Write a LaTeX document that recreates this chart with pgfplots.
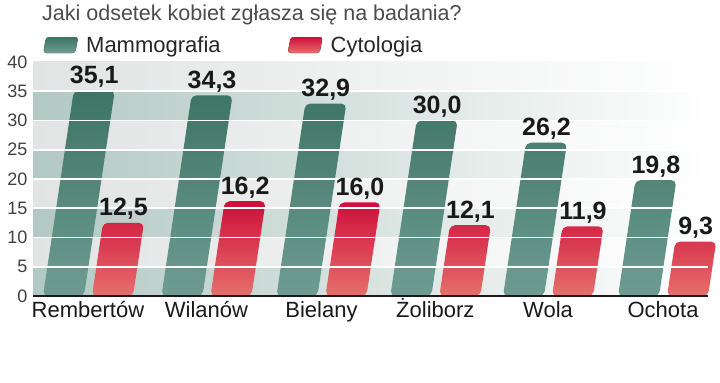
\documentclass[border=0pt]{standalone}
\usepackage{pgfplots}
\pgfplotsset{compat=1.18}
\usepackage{pgfplotstable}
\usepackage{fontspec}
\setmainfont{Liberation Sans}
\definecolor{gT}{HTML}{3D7464}
\definecolor{gB}{HTML}{6E9C92}
\definecolor{rT}{HTML}{CE0E3A}
\definecolor{rB}{HTML}{E6706C}
\definecolor{bandD}{HTML}{B2C8C2}
\definecolor{bandL}{HTML}{E1E4E3}
\pgfplotstableread{
x m c
0 35.1 12.5
1.03 34.3 16.2
2.03 32.9 16.0
3.02 30.0 12.1
4 26.2 11.9
5 19.8 9.3
}\data
\begin{document}
\begin{tikzpicture}[x=1bp,y=1bp]
\path[use as bounding box] (0,0) rectangle (720,382);
\node[anchor=north west, inner sep=0pt, text=black!70, font=\fontsize{21.5bp}{24bp}\selectfont] at (42,377) {Jaki odsetek kobiet zgłasza się na badania?};
\begin{axis}[
  at={(33bp,86bp)}, anchor=south west,
  scale only axis, width=675bp, height=234bp,
  xmin=-0.478, xmax=5.391, ymin=0, ymax=40,
  clip=false,
  axis lines=left, axis line style={draw=none},
  major tick length=0pt,
  xtick={0,1.03,2.03,3.02,4,5},
  xticklabels={Rembertów,Wilanów,Bielany,Żoliborz,Wola,Ochota},
  ytick={0,5,...,40},
  /pgf/number format/assume math mode=true,
  yticklabel style={font=\fontsize{18bp}{20bp}\selectfont, text=black!75, anchor=east, xshift=-2bp},
  xticklabel style={font=\fontsize{22bp}{24bp}\selectfont, text=black!90, anchor=base, yshift=-21bp},
  bar width=41bp,
  legend columns=2,
  legend style={at={(0.0148,1.0726)}, anchor=west, draw=none, fill=none, inner sep=0pt,
    font=\fontsize{22bp}{24bp}\selectfont, text=black!85,
    /tikz/every even column/.append style={column sep=65bp}},
  legend cell align=left,
  every node near coord/.append style={font=\bfseries\fontsize{25bp}{27bp}\selectfont, text=black!90, inner sep=3bp, anchor=south},
]
\addlegendimage{legend image code/.code={\path[draw=none,fill=none] (0bp,-1bp) rectangle (41bp,1bp);\fill[draw=none, top color=gT, bottom color=gB, rounded corners=3bp] (0bp,-8bp) -- (32bp,-8bp) -- (35bp,8bp) -- (3bp,8bp) -- cycle;}}
\addlegendentry{Mammografia}
\addlegendimage{legend image code/.code={\path[draw=none,fill=none] (0bp,-1bp) rectangle (41bp,1bp);\fill[draw=none, top color=rT, bottom color=rB, rounded corners=3bp] (0bp,-8bp) -- (32bp,-8bp) -- (35bp,8bp) -- (3bp,8bp) -- cycle;}}
\addlegendentry{Cytologia}
% background bands
\fill[left color=bandD, right color=white] (rel axis cs:0,0) rectangle (rel axis cs:1,0.125);
\fill[left color=bandL, right color=white] (rel axis cs:0,0.125) rectangle (rel axis cs:1,0.25);
\fill[left color=bandD, right color=white] (rel axis cs:0,0.25) rectangle (rel axis cs:1,0.375);
\fill[left color=bandL, right color=white] (rel axis cs:0,0.375) rectangle (rel axis cs:1,0.5);
\fill[left color=bandD, right color=white] (rel axis cs:0,0.5) rectangle (rel axis cs:1,0.625);
\fill[left color=bandL, right color=white] (rel axis cs:0,0.625) rectangle (rel axis cs:1,0.75);
\fill[left color=bandD, right color=white] (rel axis cs:0,0.75) rectangle (rel axis cs:1,0.875);
\fill[left color=bandL, right color=white] (rel axis cs:0,0.875) rectangle (rel axis cs:1,1);
% bars
\addplot[ybar, forget plot, bar shift=-24.5bp, draw=none, top color=gT, bottom color=gB, rounded corners=5bp, xslant=0.15] table[x=x,y=m]{\data};
\addplot[ybar, forget plot, bar shift=24.5bp, draw=none, top color=rT, bottom color=rB, rounded corners=5bp, xslant=0.15] table[x=x,y=c]{\data};
% grid
\draw[white, line width=1.6bp] (rel axis cs:0,0.125) -- (rel axis cs:1,0.125);
\draw[white, line width=1.6bp] (rel axis cs:0,0.25) -- (rel axis cs:1,0.25);
\draw[white, line width=1.6bp] (rel axis cs:0,0.375) -- (rel axis cs:1,0.375);
\draw[white, line width=1.6bp] (rel axis cs:0,0.5) -- (rel axis cs:1,0.5);
\draw[white, line width=1.6bp] (rel axis cs:0,0.625) -- (rel axis cs:1,0.625);
\draw[white, line width=1.6bp] (rel axis cs:0,0.75) -- (rel axis cs:1,0.75);
\draw[white, line width=1.6bp] (rel axis cs:0,0.875) -- (rel axis cs:1,0.875);
\draw[black!90, line width=2bp] (rel axis cs:0,0) -- (rel axis cs:1,0);
% value labels
\addplot[forget plot, draw=none, mark=none, xslant=0.15,
  nodes near coords={\pgfmathprintnumber[fixed,fixed zerofill,precision=1,use comma]{\pgfplotspointmeta}},
  every node near coord/.append style={xshift=-24.5bp}] table[x=x,y=m]{\data};
\addplot[forget plot, draw=none, mark=none, xslant=0.15,
  nodes near coords={\pgfmathprintnumber[fixed,fixed zerofill,precision=1,use comma]{\pgfplotspointmeta}},
  every node near coord/.append style={xshift=24.5bp}] table[x=x,y=c]{\data};
\end{axis}
\end{tikzpicture}
\end{document}
